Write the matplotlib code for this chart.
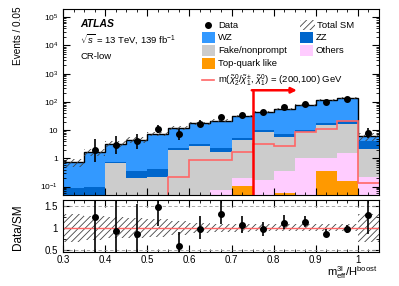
import numpy as np
import matplotlib
matplotlib.use('Agg')
import matplotlib.pyplot as plt
from matplotlib.patches import Rectangle
from matplotlib.ticker import FixedLocator, MultipleLocator, LogLocator, FuncFormatter, NullFormatter

plt.rcParams['font.family'] = ['Liberation Sans', 'DejaVu Sans']
plt.rcParams['mathtext.fontset'] = 'custom'
plt.rcParams['mathtext.rm'] = 'Liberation Sans'
plt.rcParams['mathtext.it'] = 'Liberation Sans:italic'
plt.rcParams['mathtext.bf'] = 'Liberation Sans:bold'
plt.rcParams['hatch.linewidth'] = 0.6

# ---------------- data ----------------
bin_edges = [0.30, 0.35, 0.40, 0.45, 0.50, 0.55, 0.60, 0.65, 0.70, 0.75,
             0.80, 0.85, 0.90, 0.95, 1.00, 1.05]
data = [0, 2, 3, 4, 11, 7, 17, 29, 33, 42, 63, 85, 100, 131, 8]
data_err_lo = [0, 1.29, 1.63, 1.91, 3.28, 2.58, 4.11, 5.36, 5.72, 6.46, 7.92, 9.2, 9.98, 11.4, 2.76]
data_err_hi = [0, 2.64, 2.92, 3.16, 4.38, 3.77, 5.20, 6.44, 6.79, 7.53, 8.99, 10.3, 11.0, 12.5, 3.96]

top_quark = [0, 0, 0, 0, 0, 0, 0, 0, 0.104, 0, 0.06, 0, 0.35, 0.16, 0]
others    = [0, 0, 0, 0, 0, 0, 0, 0.078, 0.10, 0.17, 0.29, 1.0, 0.65, 1.34, 0.22]
fake      = [0, 0, 0.68, 0.20, 0.22, 1.9, 2.8, 1.6, 4.2, 8.2, 5.35, 7.6, 13.8, 14.5, 2.0]
zz        = [0.09, 0.10, 0.04, 0.15, 0.20, 0.4, 0.45, 0.63, 1.0, 1.4, 1.8, 1.8, 3.7, 5.0, 1.8]
wz        = [0.65, 1.51, 2.48, 4.25, 6.98, 9.6, 14.25, 19.5, 25.7, 33.5, 48.5, 64.2, 96.5, 114.0, 2.1]
sm_rel_unc = [0.32, 0.28, 0.24, 0.22, 0.2, 0.15, 0.12, 0.1, 0.09, 0.08, 0.08, 0.08, 0.08, 0.08, 0.32]
signal = [0, 0, 0, 0, 0, 0.21, 0.85, 0.85, 1.67, 3.3, 2.7, 8.6, 11.3, 21.0, 0.13]
cut_value = 0.75
arrow_end = 0.855
arrow_level = 257

xticks = [0.3, 0.4, 0.5, 0.6, 0.7, 0.8, 0.9, 1.0]

# ---------------- derived ----------------
edges = np.array(bin_edges)
centers = 0.5 * (edges[:-1] + edges[1:])
layers = [top_quark, others, fake, zz, wz]
colors = ['#ff9900', '#ffccff', '#cccccc', '#0066cc', '#3399ff']
cum = np.cumsum(np.array(layers), axis=0)
total = cum[-1]
d = np.array(data, dtype=float)
elo = np.array(data_err_lo)
ehi = np.array(data_err_hi)
mask = d > 0
rel = np.array(sm_rel_unc)

W, H = 399, 286
fig = plt.figure(figsize=(W / 100, H / 100), dpi=100)
ax = fig.add_axes([63 / W, 1 - 195 / H, 316 / W, (195 - 9.3) / H])
rax = fig.add_axes([63 / W, 1 - 252 / H, 316 / W, 52 / H], sharex=ax)

floor = 1e-4
for i in range(len(layers) - 1, -1, -1):
    ax.stairs(cum[i], edges, baseline=floor, fill=True, color=colors[i], linewidth=0)

ax.stairs(total, edges, baseline=None, color='black', linewidth=1.0)
lo_b = np.append(total * (1 - rel), total[-1] * (1 - rel[-1]))
hi_b = np.append(total * (1 + rel), total[-1] * (1 + rel[-1]))
ax.fill_between(edges, lo_b, hi_b, step='post', facecolor='none',
                edgecolor='#444444', linewidth=0, hatch='/////')
ax.stairs(np.array(signal) + 1e-6, edges, baseline=None, color='#ff6666', linewidth=1.2)

ax.errorbar(centers[mask], d[mask], yerr=[elo[mask], ehi[mask]], fmt='o',
            color='black', ms=4, elinewidth=1.2, capsize=0, zorder=5)

ymin, ymax = 0.05, 1.9e5
ax.plot([cut_value, cut_value], [ymin, arrow_level], color='red', lw=1.8, zorder=6)
ax.annotate('', xy=(arrow_end, arrow_level), xytext=(cut_value - 0.002, arrow_level),
            arrowprops=dict(arrowstyle='-|>', color='red', lw=1.8,
                            mutation_scale=8, shrinkA=0, shrinkB=0), zorder=6)

ax.set_yscale('log')
ax.set_ylim(ymin, ymax)
ax.set_xlim(0.3, 1.05)


def logfmt(v, pos):
    e = int(round(np.log10(v)))
    if e == 0:
        return '1'
    if e == 1:
        return '10'
    return r'$10^{%d}$' % e


ax.yaxis.set_major_locator(LogLocator(base=10, numticks=20))
ax.yaxis.set_minor_locator(LogLocator(base=10, subs=np.arange(2, 10), numticks=20))
ax.yaxis.set_major_formatter(FuncFormatter(logfmt))
ax.yaxis.set_minor_formatter(NullFormatter())
ax.xaxis.set_major_locator(FixedLocator(xticks))
ax.xaxis.set_minor_locator(MultipleLocator(0.025))
for a in (ax, rax):
    a.tick_params(which='both', direction='in', top=True, right=True)
    a.tick_params(which='major', length=5, width=0.8)
    a.tick_params(which='minor', length=2.5, width=0.6)
ax.tick_params(axis='y', labelsize=6)
ax.tick_params(axis='x', labelbottom=False)

# ratio
ratio = np.where(mask, d / total, np.nan)
rlo = elo / total
rhi = ehi / total
r_lo_b = np.append(1 - rel, 1 - rel[-1])
r_hi_b = np.append(1 + rel, 1 + rel[-1])
rax.fill_between(edges, r_lo_b, r_hi_b, step='post', facecolor='none',
                 edgecolor='#444444', linewidth=0, hatch='/////')
rax.axhline(1.0, color='#ff6666', lw=1.0)
for yv in (0.5, 1.5):
    rax.axhline(yv, color='#999999', lw=0.6, ls=(0, (4, 3)))
rax.errorbar(centers[mask], ratio[mask], yerr=[rlo[mask], rhi[mask]], fmt='o',
             color='black', ms=4, elinewidth=1.2, capsize=0, zorder=5)
rax.set_ylim(0.45, 1.64)
rax.set_xlim(0.3, 1.05)
rax.yaxis.set_major_locator(FixedLocator([0.5, 1.0, 1.5]))
rax.yaxis.set_major_formatter(FuncFormatter(lambda v, p: '%g' % v))
rax.yaxis.set_minor_locator(MultipleLocator(0.25))
rax.xaxis.set_major_formatter(FuncFormatter(lambda v, p: '%g' % v))
rax.tick_params(labelsize=7)
rax.tick_params(axis='x', pad=2.5)

# labels
fig.text(18 / W, 1 - 6 / H, 'Events / 0.05', rotation=90, ha='center', va='top', fontsize=7.2)
fig.text(18 / W, 1 - 227 / H, 'Data/SM', rotation=90, ha='center', va='center', fontsize=8.5)
fig.text(378 / W, 1 - 276 / H, r'$\mathrm{m_{eff}^{3l}/H^{boost}}$', ha='right',
         va='baseline', fontsize=8)

# ATLAS label
ax.text(0.054, 0.921, 'ATLAS', transform=ax.transAxes, fontsize=7.5,
        fontweight='bold', fontstyle='italic', va='center', ha='left')
ax.text(0.054, 0.842, r'$\sqrt{s}$ = 13 TeV, 139 fb$^{-1}$', transform=ax.transAxes,
        fontsize=6.8, va='center', ha='left')
ax.text(0.054, 0.745, 'CR-low', transform=ax.transAxes, fontsize=6.8, va='center', ha='left')


# legend (manual)
def ay(ypx):
    return 1 - (ypx - 9.3) / 185.7


def axf(xpx):
    return (xpx - 63) / 316


lfs = 6.8
rows = [25, 37.5, 50.5, 63.5]
ax.plot([axf(208)], [ay(rows[0])], 'o', color='black', ms=4, transform=ax.transAxes)
ax.text(axf(218), ay(rows[0]), 'Data', transform=ax.transAxes, fontsize=lfs, va='center')
ax.add_patch(Rectangle((axf(300), ay(rows[0]) - 0.027), axf(315) - axf(300), 0.054,
                       transform=ax.transAxes, facecolor='none', edgecolor='#444444',
                       linewidth=0, hatch='/////'))
ax.text(axf(317), ay(rows[0]), 'Total SM', transform=ax.transAxes, fontsize=lfs, va='center')
entries = [(202, rows[1], colors[4], 'WZ'), (300, rows[1], colors[3], 'ZZ'),
           (202, rows[2], colors[2], 'Fake/nonprompt'), (300, rows[2], colors[1], 'Others'),
           (202, rows[3], colors[0], 'Top-quark like')]
for xp, yp, c, lab in entries:
    ax.add_patch(Rectangle((axf(xp), ay(yp) - 0.027), axf(xp + 13) - axf(xp), 0.054,
                           transform=ax.transAxes, facecolor=c, edgecolor='none'))
    ax.text(axf(xp + 16), ay(yp), lab, transform=ax.transAxes, fontsize=lfs, va='center')
ax.plot([axf(202), axf(214)], [ay(80), ay(80)], color='#ff6666', lw=1.2, transform=ax.transAxes)
ax.text(axf(218), ay(80),
        r'm($\tilde{\chi}^{0}_{2}/\tilde{\chi}^{\pm}_{1}$, $\tilde{\chi}^{0}_{1}$) = (200,100) GeV',
        transform=ax.transAxes, fontsize=lfs, va='center')

fig.savefig('out.png', dpi=100)
